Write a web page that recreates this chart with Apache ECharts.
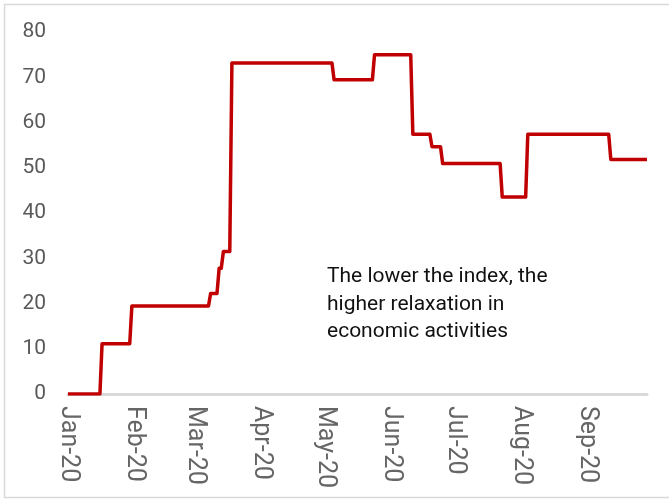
<!DOCTYPE html>
<html>
<head>
<meta charset="utf-8">
<script src="https://cdn.jsdelivr.net/npm/echarts@6/dist/echarts.min.js"></script>
<style>
  html, body { margin: 0; padding: 0; background: #fff; }
  #indexChart { width: 669px; height: 502px; }
</style>
</head>
<body>
<div id="indexChart"></div>
<script>
// each step of the index: first day, last day, value
const stepStart = ["2020-01-01", "2020-01-17", "2020-01-31", "2020-03-08", "2020-03-12", "2020-03-14", "2020-03-18",
  "2020-05-05", "2020-05-24", "2020-06-11", "2020-06-20", "2020-06-25", "2020-07-23", "2020-08-04", "2020-09-12"];
const stepEnd = ["2020-01-16", "2020-01-30", "2020-03-07", "2020-03-11", "2020-03-13", "2020-03-17", "2020-05-04",
  "2020-05-23", "2020-06-10", "2020-06-19", "2020-06-24", "2020-07-22", "2020-08-03", "2020-09-11", "2020-09-29"];
const stepValue = [0, 11.11, 19.44, 22.22, 27.78, 31.48, 73.15, 69.44, 75, 57.41, 54.63, 50.93, 43.52, 57.41, 51.85];
const yTicks = [0, 10, 20, 30, 40, 50, 60, 70, 80];
const note = ["The lower the index, the", "higher relaxation in", "economic activities"];

const points = [];
stepValue.forEach((v, i) => {
  points.push([stepStart[i], v]);
  if (stepEnd[i] !== stepStart[i]) points.push([stepEnd[i], v]);
});

const myChart = echarts.init(document.getElementById("indexChart"));
myChart.setOption({
  animation: false,
  grid: { left: 68, right: 22, top: 32, bottom: 108 },
  graphic: [
    {
      type: "rect",
      shape: { x: 4.5, y: 4.5, width: 700, height: 493 },
      style: { fill: "none", stroke: "#d9d9d9", lineWidth: 1.5 },
      silent: true,
    },
    {
      type: "text",
      left: 327,
      top: 263,
      style: {
        text: note.join("\n"),
        font: "21px Roboto",
        lineHeight: 27.5,
        fill: "#111",
      },
    },
  ],
  xAxis: {
    type: "time",
    min: "2020-01-01",
    max: "2020-09-29",
    minInterval: 28 * 86400000,
    maxInterval: 31 * 86400000,
    axisLine: { lineStyle: { color: "#d9d9d9", width: 3 } },
    axisTick: { show: false },
    splitLine: { show: false },
    axisLabel: {
      rotate: -90,
      margin: 12,
      color: "#666",
      fontFamily: "Roboto",
      fontSize: 25,
      formatter: "{MMM}-{yy}",
      showMaxLabel: false,
    },
  },
  yAxis: {
    type: "value",
    min: yTicks[0],
    max: yTicks[yTicks.length - 1],
    interval: 10,
    axisLine: { show: false },
    axisTick: { show: false },
    splitLine: { show: false },
    axisLabel: {
      margin: 22,
      color: "#595959",
      fontFamily: "Roboto",
      fontSize: 21,
    },
  },
  series: [
    {
      type: "line",
      data: points,
      symbol: "none",
      lineStyle: { color: "#c00000", width: 3.5, join: "round" },
    },
  ],
});
</script>
</body>
</html>
